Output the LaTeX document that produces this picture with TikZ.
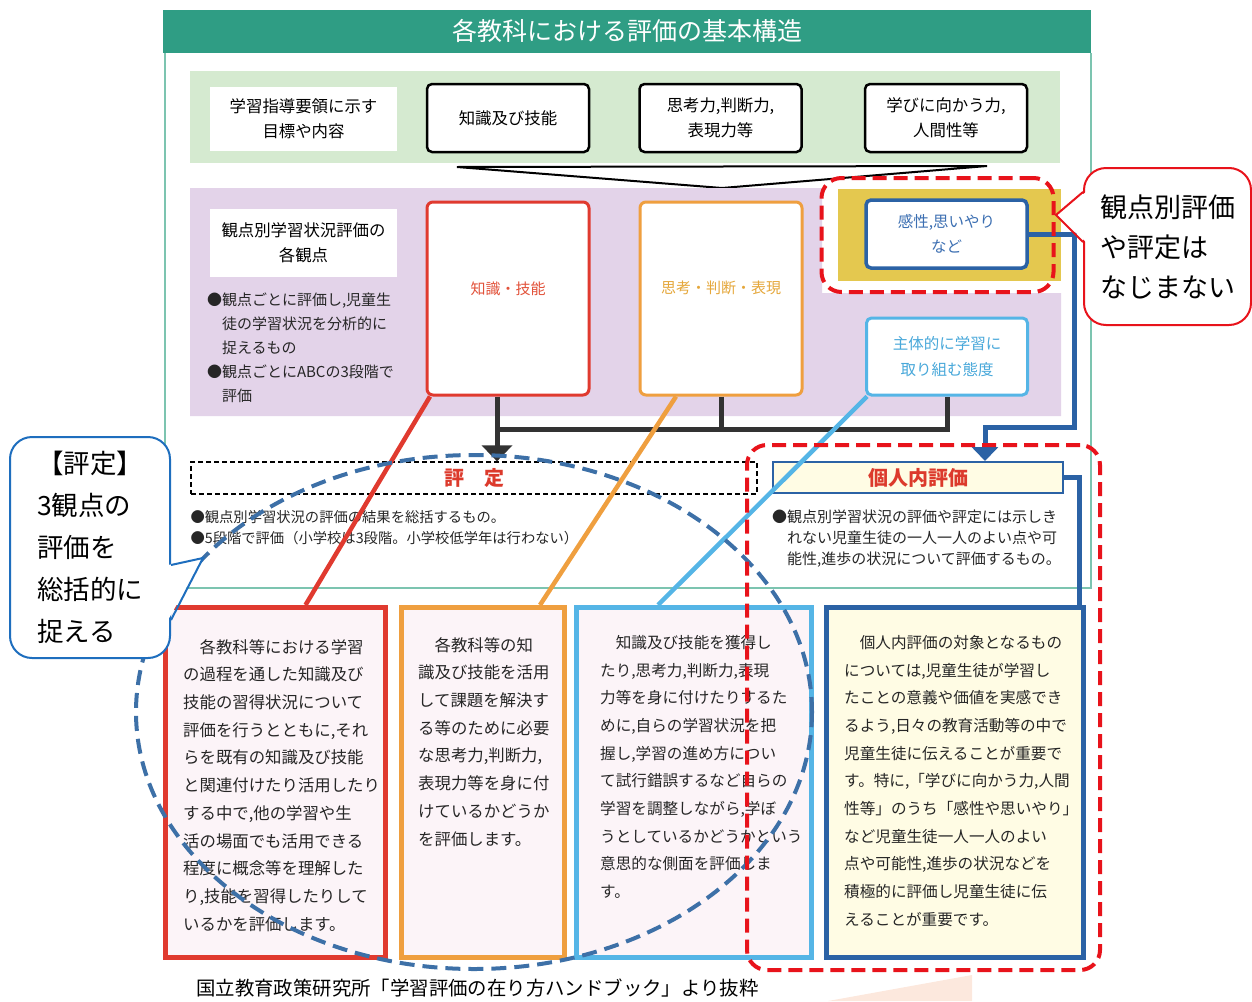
\documentclass[tikz,border=0pt]{standalone}
\usepackage{fontspec}
\setmainfont{Noto Sans CJK JP}
\usetikzlibrary{positioning,arrows.meta}
\newcommand{\jfs}[2]{\fontsize{#1}{#2}\selectfont}
\definecolor{hdteal}{HTML}{2F9D84}
\definecolor{frteal}{HTML}{7CC4B0}
\definecolor{bandgreen}{HTML}{D5EAD0}
\definecolor{bandpurple}{HTML}{E3D3E9}
\definecolor{bandyellow}{HTML}{E4C84F}
\definecolor{kred}{HTML}{E03A2F}
\definecolor{knred}{HTML}{E2523A}
\definecolor{korange}{HTML}{EF9F3F}
\definecolor{shgold}{HTML}{E5A73A}
\definecolor{klblue}{HTML}{55B5E6}
\definecolor{sytext}{HTML}{48A8DA}
\definecolor{kdblue}{HTML}{2B62A5}
\definecolor{kstext}{HTML}{3C6FB2}
\definecolor{callblue}{HTML}{1E6EBE}
\definecolor{ellblue}{HTML}{3D70A7}
\definecolor{dashred}{HTML}{E8131B}
\definecolor{hyred}{HTML}{DC3A2C}
\definecolor{pinkfill}{HTML}{FCF4F8}
\definecolor{creamfill}{HTML}{FFFCE4}
\definecolor{peach}{HTML}{FCE8DD}
\definecolor{darkline}{HTML}{333333}
\definecolor{txtgray}{HTML}{262626}
\begin{document}
\begin{tikzpicture}[x=1pt,y=-1pt,
  plain/.style={rectangle,fill=white,inner sep=0pt,align=center,font=\jfs{16.4}{25.5}},
  goal/.style={rectangle,draw=black,line width=2.5pt,rounded corners=5pt,fill=white,minimum width=162pt,minimum height=68pt,align=center,font=\jfs{16.4}{25}},
  kbox/.style={rectangle,draw=#1,line width=3pt,rounded corners=6pt,fill=white,minimum width=162pt,minimum height=193pt},
  sbox/.style={rectangle,draw=#1,line width=3.5pt,rounded corners=5pt,fill=white,minimum width=161pt,align=center,font=\jfs{15.5}{25.5}},
  pbox/.style={rectangle,draw=#1,line width=5pt,fill=pinkfill,minimum height=350pt},
  ptxt/.style={inner sep=0pt,align=left,text=txtgray,font=\jfs{#1}{27.7}},
  lbl/.style={inner sep=0pt,font=\jfs{15}{18}},
  bul/.style={inner sep=0pt,align=left,text=txtgray},
  tbox/.style={rectangle,minimum height=32pt,inner sep=0pt,font={\jfs{20}{24}\bfseries},text=hyred},
  cbox/.style={rectangle,draw=#1,line width=2pt,fill=white,rounded corners=22pt,align=left,inner sep=0pt},
  lnk/.style={draw=#1,line width=4.5pt},
  blk/.style={draw=darkline,line width=5pt},
  blkarr/.style={blk,-{Triangle[width=30pt,length=16pt]}},
  bluarr/.style={draw=kdblue,line width=5pt,-{Triangle[width=26pt,length=14pt]}},
  hl/.style={draw=dashred,line width=4pt,dash pattern=on 14pt off 7pt,rounded corners=20pt},
  ell/.style={draw=ellblue,line width=4pt,dash pattern=on 15pt off 8pt}]
  \useasboundingbox (0,0) rectangle (1252,1001);
  \fill[peach] (828,1001) -- (972,975) -- (972,1001) -- cycle;
  \fill[hdteal] (163,10) rectangle (1091,53);
  \draw[frteal,line width=1.2pt] (165,53) -- (165,588) -- (1091,588) -- (1091,53);
  \node[text=white,font=\jfs{25}{30}] (ttl) at (627,31) {各教科における評価の基本構造};
  \fill[bandgreen] (190,71) rectangle (1060,163);
  \node[plain,minimum width=187pt,minimum height=64pt] (goal) at (303.5,118.5) {学習指導要領に示す\\目標や内容};
  \node[goal] (gk) at (508,118) {知識及び技能};
  \node[goal] (gt) at (720.5,118) {思考力,判断力,\\表現力等};
  \node[goal] (gm) at (946,118) {学びに向かう力,\\人間性等};
  \draw[line width=2pt] (457,167) -- (987,166) -- (722,188) -- cycle;
  \fill[bandpurple] (190,188) -- (822,188) -- (822,293) -- (1061,293) -- (1061,416) -- (190,416) -- cycle;
  \fill[bandyellow] (838,189) rectangle (1061,281);
  \node[plain,minimum width=187pt,minimum height=68pt] (kp) at (303.5,243) {観点別学習状況評価の\\各観点};
  \node[bul,font=\jfs{15}{24},below right=15pt and -3pt of kp.south west] (kpb) {●観点ごとに評価し,児童生\\　徒の学習状況を分析的に\\　捉えるもの\\●観点ごとにABCの3段階で\\　評価};
  \node[kbox=kred] (kn) at (508,298.5) {};
  \node[lbl,text=knred] at ([yshift=10pt]kn.center) {知識・技能};
  \node[kbox=korange] (sh) at (721,298.5) {};
  \node[lbl,text=shgold] at ([yshift=11pt]sh.center) {思考・判断・表現};
  \node[sbox=kdblue,minimum height=68pt,text=kstext] (ks) at (946.5,234) {感性,思いやり\\など};
  \node[sbox=klblue,line width=3pt,minimum height=77pt,text=sytext] (sy) at (947,356.5) {主体的に学習に\\取り組む態度};
  \node[tbox,draw=black,line width=1.3pt,dash pattern=on 5pt off 3pt,minimum width=566pt] (hy) at (474,478) {評　定};
  \node[bul,font=\jfs{14.3}{21},below right=16pt and 0pt of hy.south west] (hyb) {●観点別学習状況の評価の結果を総括するもの。\\●5段階で評価（小学校は3段階。小学校低学年は行わない）};
  \node[tbox,draw=kdblue,line width=2pt,fill=creamfill,minimum width=290pt,minimum height=31pt] (pin) at (918,477.5) {個人内評価};
  \node[bul,font=\jfs{15}{21},below right=16pt and 0pt of pin.south west] (pinb) {●観点別学習状況の評価や評定には示しき\\　れない児童生徒の一人一人のよい点や可\\　能性,進歩の状況について評価するもの。};
  \node[pbox=kred,minimum width=220pt] (b1) at (275.5,782.5) {};
  \node[pbox=korange,minimum width=163pt,right=11pt of b1] (b2) {};
  \node[pbox=klblue,minimum width=235pt,right=7pt of b2] (b3) {};
  \node[pbox=kdblue,fill=creamfill,minimum width=257pt,right=10pt of b3] (b4) {};
  \node[ptxt=16.4,below right=34pt and 20pt of b1.north west] (t1) {　各教科等における学習\\の過程を通した知識及び\\技能の習得状況について\\評価を行うとともに,それ\\らを既有の知識及び技能\\と関連付けたり活用したり\\する中で,他の学習や生\\活の場面でも活用できる\\程度に概念等を理解した\\り,技能を習得したりして\\いるかを評価します。};
  \node[ptxt=16.4,below right=32pt and 19pt of b2.north west] (t2) {　各教科等の知\\識及び技能を活用\\して課題を解決す\\る等のために必要\\な思考力,判断力,\\表現力等を身に付\\けているかどうか\\を評価します。};
  \node[ptxt=15.6,below right=30pt and 26pt of b3.north west] (t3) {　知識及び技能を獲得し\\たり,思考力,判断力,表現\\力等を身に付けたりするた\\めに,自らの学習状況を把\\握し,学習の進め方につい\\て試行錯誤するなど自らの\\学習を調整しながら,学ぼ\\うとしているかどうかという\\意思的な側面を評価しま\\す。};
  \node[ptxt=15.6,below right=30pt and 20pt of b4.north west] (t4) {　個人内評価の対象となるもの\\については,児童生徒が学習し\\たことの意義や価値を実感でき\\るよう,日々の教育活動等の中で\\児童生徒に伝えることが重要で\\す。特に,「学びに向かう力,人間\\性等」のうち「感性や思いやり」\\など児童生徒一人一人のよい\\点や可能性,進歩の状況などを\\積極的に評価し児童生徒に伝\\えることが重要です。};
  \draw[blk] ([xshift=-11pt]kn.south) -- ++(0,33) coordinate (bar) -| (sy.south);
  \draw[blk] (sh.south) -- (sh.south |- bar);
  \draw[blkarr] (bar) -- (bar |- hy.north);
  \draw[bluarr] (ks.east) -- ++(46,0) |- ([xshift=67pt,yshift=34pt]pin.north) -- ([xshift=67pt]pin.north);
  \draw[lnk=kred] ([xshift=4.5pt]kn.south west) -- ([xshift=30pt]b1.north);
  \draw[lnk=korange] ([xshift=37.5pt]sh.south west) -- ([xshift=57pt]b2.north);
  \draw[lnk=klblue] ([xshift=2pt]sy.south west) -- ([xshift=-36pt]b3.north);
  \draw[draw=kdblue,line width=5pt] (pin.east) -| ([xshift=-7pt]b4.north east);
  \draw[ell] (474,712) ellipse [x radius=338pt,y radius=257pt];
  \node[hl,minimum width=232pt,minimum height=114pt] (hl1) at (937.5,235) {};
  \node[hl,minimum width=353pt,minimum height=525pt] (hl2) at (923.5,707.5) {};
  \node[cbox=callblue,minimum width=160pt,minimum height=221pt,font=\jfs{26.5}{42}] (cl) at (90,547.5) {【評定】\\3観点の\\評価を\\総括的に\\捉える};
  \coordinate (clt) at (203,558);
  \fill[white] ([yshift=-17.5pt,xshift=-3pt]cl.east) -- (clt) -- ([yshift=-72.5pt,xshift=-3pt]cl.east) -- cycle;
  \draw[callblue,line width=2pt] ([yshift=-17.5pt]cl.east) -- (clt) -- ([yshift=-72.5pt]cl.east);
  \node[cbox=dashred,minimum width=167pt,minimum height=157pt,font=\jfs{27}{40}] (cr) at (1167.5,246.5) {観点別評価\\や評定は\\なじまない};
  \coordinate (crt) at (1056,215);
  \fill[white] ([yshift=54.5pt,xshift=3pt]cr.west) -- (crt) -- ([yshift=4.5pt,xshift=3pt]cr.west) -- cycle;
  \draw[dashred,line width=2pt] ([yshift=54.5pt]cr.west) -- (crt) -- ([yshift=4.5pt]cr.west);
  \node[anchor=west,inner sep=0pt,font=\jfs{19.4}{22}] (src) at (196,988) {国立教育政策研究所「学習評価の在り方ハンドブック」より抜粋};
\end{tikzpicture}
\end{document}
